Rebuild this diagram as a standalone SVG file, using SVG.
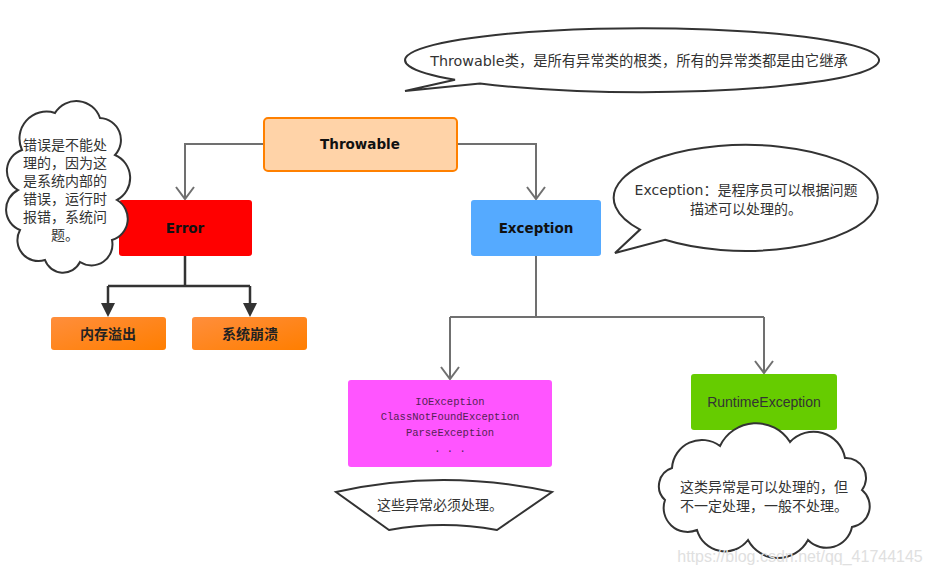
<svg xmlns="http://www.w3.org/2000/svg" width="931" height="574" viewBox="0 0 931 574">
<defs>
<style>
.lbl{font-family:"DejaVu Sans","Noto Sans CJK SC",sans-serif;font-weight:bold;font-size:13.5px;fill:#111;text-anchor:middle;dominant-baseline:central}
.cjkb{font-family:"Noto Sans CJK SC",sans-serif;font-weight:bold;font-size:14px;fill:#222;text-anchor:middle;dominant-baseline:central}
.note{font-family:"DejaVu Sans","Noto Sans CJK SC",sans-serif;font-size:14px;fill:#333;text-anchor:middle;dominant-baseline:central}
.mono{font-family:"Liberation Mono","Noto Sans CJK SC",monospace;font-size:10.5px;fill:#552255;text-anchor:middle;dominant-baseline:central}
.bub{fill:#fff;stroke:#333;stroke-width:2}
.conn{fill:none;stroke:#707070;stroke-width:2}
.conn2{fill:none;stroke:#333;stroke-width:2.5}
</style>
<linearGradient id="og" x1="0" y1="0" x2="1" y2="1">
<stop offset="0" stop-color="#FF8E3C"/>
<stop offset="1" stop-color="#FF7E00"/>
</linearGradient>
</defs>
<rect width="931" height="574" fill="#fff"/>

<g id="connectors">
<path class="conn" d="M263,144 H185 V199"/>
<path class="conn" d="M457,144 H536 V199"/>
<path class="conn2" d="M185,256 V286 M108,286 H250 M108,286 V305 M250,286 V305"/>
<path d="M101,303 L115,303 L108,317 Z M243,303 L257,303 L250,317 Z" fill="#333"/>
<path class="conn" d="M536,256 V317 M450,317 H764 M450,317 V379 M764,317 V373"/>
<path class="conn" d="M176,187 L185,199 L194,187"/>
<path class="conn" d="M527,187 L536,199 L545,187"/>
<path class="conn" d="M441,367 L450,379 L459,367"/>
<path class="conn" d="M755,361 L764,373 L773,361"/>
</g>

<g id="throwable">
<rect x="264" y="118" width="193" height="53" rx="4" fill="#FFD3A8" stroke="#FF8000" stroke-width="2"/>
<text class="lbl" x="360" y="144">Throwable</text>
</g>

<g id="error">
<rect x="119" y="200" width="133" height="56" rx="3" fill="#FF0000"/>
<text class="lbl" x="185" y="228">Error</text>
</g>

<g id="exception">
<rect x="471" y="200" width="130" height="56" rx="3" fill="#55AAFF"/>
<text class="lbl" x="536" y="228">Exception</text>
</g>

<g id="oom">
<rect x="51" y="317" width="115" height="33" rx="3" fill="url(#og)"/>
<text class="cjkb" x="108" y="333">内存溢出</text>
</g>

<g id="crash">
<rect x="192" y="317" width="115" height="33" rx="3" fill="url(#og)"/>
<text class="cjkb" x="250" y="333">系统崩溃</text>
</g>

<g id="checked">
<rect x="348" y="380" width="204" height="87" rx="3" fill="#FF55FF"/>
<text class="mono" x="450" y="402">IOException</text>
<text class="mono" x="450" y="417">ClassNotFoundException</text>
<text class="mono" x="450" y="433">ParseException</text>
<text class="mono" x="450" y="449">. . .</text>
</g>

<g id="runtime">
<rect x="691" y="374" width="146" height="56" rx="3" fill="#66CC00"/>
<text x="764" y="402" style="font-family:'Liberation Sans',Arial,sans-serif;font-size:14px;fill:#333;text-anchor:middle;dominant-baseline:central">RuntimeException</text>
</g>

<g id="note-throwable">
<path class="bub" d="M480,83.5 A237,32 0 1 0 455,79.8 L405,91 Z"/>
<text class="note" x="639" y="61" style="font-size:14.3px">Throwable类，是所有异常类的根类，所有的异常类都是由它继承</text>
</g>

<g id="note-exception">
<path class="bub" d="M665,239.8 A132,53 0 1 0 640,229.6 L615,253 Z"/>
<text class="note" x="746" y="190">Exception：是程序员可以根据问题</text>
<text class="note" x="746" y="209">描述可以处理的。</text>
</g>

<g id="note-error">
<path class="bub" d="M22,150 A27,27 0 0 1 55,113 A25,25 0 0 1 100,118 A22,22 0 0 1 115,155 A25,25 0 0 1 117,200 A22,22 0 0 1 112,240 A21,21 0 0 1 80,262 A19,19 0 0 1 45,260 A21,21 0 0 1 20,230 A22,22 0 0 1 18,190 A22,22 0 0 1 22,150 Z"/>
<text class="note" x="65" y="145">错误是不能处</text>
<text class="note" x="65" y="163">理的，因为这</text>
<text class="note" x="65" y="181">是系统内部的</text>
<text class="note" x="65" y="199">错误，运行时</text>
<text class="note" x="65" y="217">报错，系统问</text>
<text class="note" x="65" y="235">题。</text>
</g>

<g id="note-checked">
<path class="bub" d="M336,492 Q443,468 552,492 L497,530 Q443,520 389,530 Z"/>
<text class="note" x="440" y="505">这些异常必须处理。</text>
</g>

<g id="note-runtime">
<path class="bub" d="M672,468 A30,30 0 0 1 720,446 A40,40 0 0 1 790,442 A32,32 0 0 1 845,458 A20,20 0 0 1 862,490 A21,21 0 0 1 852,527 A26,26 0 0 1 808,540 A34,34 0 0 1 748,540 A29,29 0 0 1 697,530 A24,24 0 0 1 665,500 A19,19 0 0 1 672,468 Z"/>
<text class="note" x="764" y="487">这类异常是可以处理的，但</text>
<text class="note" x="764" y="506">不一定处理，一般不处理。</text>
</g>

<text x="800" y="556" style="font-family:'Liberation Sans',Arial,sans-serif;font-size:16px;fill:#e0e0e0;text-anchor:middle;dominant-baseline:central">https://blog.csdn.net/qq_41744145</text>
</svg>
